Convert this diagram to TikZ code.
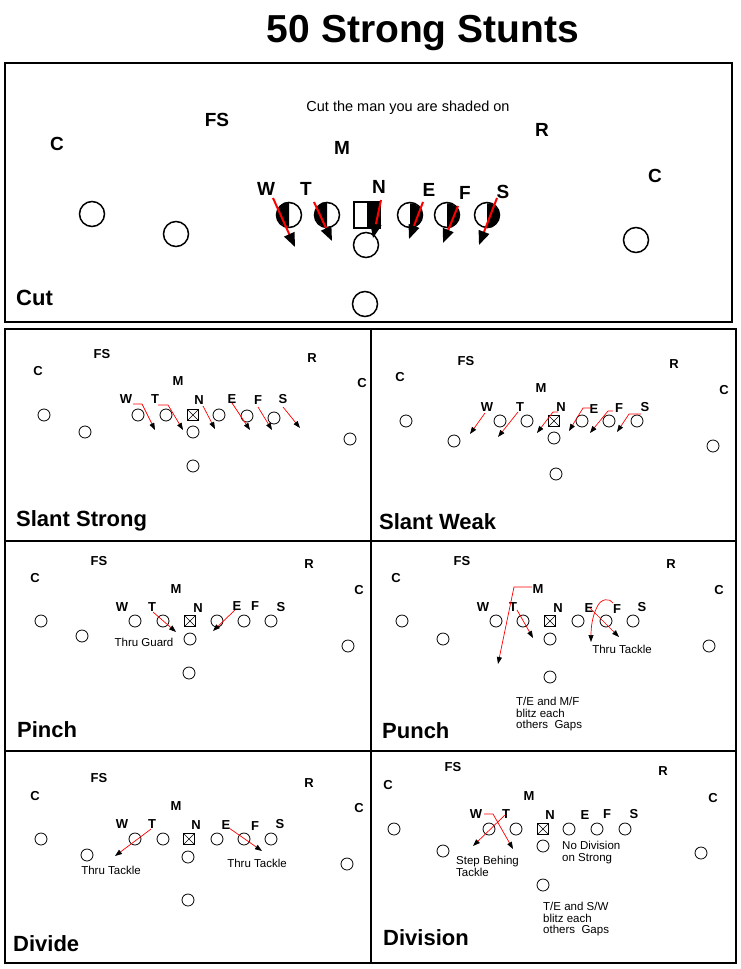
\documentclass[tikz,border=0pt]{standalone}
\usepackage{fontspec}
\setmainfont{Liberation Sans}
\usetikzlibrary{arrows.meta}
\begin{document}
\begin{tikzpicture}[x=1pt,y=-1pt,
  lbl/.style={font=\fontsize{13}{13}\selectfont\bfseries, inner sep=0pt},
  biglbl/.style={font=\fontsize{19}{19}\selectfont\bfseries, inner sep=0pt},
  note/.style={font=\fontsize{11.5}{11.7}\selectfont, inner sep=0pt, align=left},
  ptitle/.style={font=\fontsize{22}{22}\selectfont\bfseries, inner sep=0pt, anchor=base west},
  pl/.style={circle, draw, line width=0.8pt, minimum size=12pt, inner sep=0pt},
  bigpl/.style={circle, draw, line width=1.5pt, minimum size=25pt, inner sep=0pt},
  ctr/.style={draw, line width=0.8pt, minimum size=11pt, inner sep=0pt,
    path picture={\draw[line width=0.6pt] (path picture bounding box.south west) -- (path picture bounding box.north east)
      (path picture bounding box.north west) -- (path picture bounding box.south east);}},
  blitz/.style={red, line width=0.7pt, -{Triangle[length=7pt,width=5pt,color=black,fill=black]}},
  cutarr/.style={red, line width=2pt, -{Triangle[length=14pt,width=11pt,color=black,fill=black]}},
  frame/.style={line width=2pt}
]
\fill[white] (0,0) rectangle (741,969);
\useasboundingbox (0,0) rectangle (741,969);

% title
\node[font=\fontsize{39}{39}\selectfont\bfseries, inner sep=0pt, anchor=base] (title) at (423,42) {50 Strong Stunts};

% frames
\draw[frame] (5,63) rectangle (732,322);
\draw[frame] (5,329) rectangle (736,963);
\draw[frame] (371,329) -- (371,963);
\draw[frame] (5,541) -- (736,541);
\draw[frame] (5,751) -- (736,751);

% ================= CUT =================
\node[ptitle] (t0) at (16,305) {Cut};
\node[font=\fontsize{14.5}{14.5}\selectfont, inner sep=0pt] (cutnote) at (408,108) {Cut the man you are shaded on};
\foreach \n/\t/\x/\y in {FS/FS/217/120, Cl/C/57/144, M/M/342/148, R/R/542/130, Cr/C/655/176,
  W/W/266/189, T/T/306/189, N/N/379/187, E/E/429/190, F/F/465/193, S/S/503/192}
  \node[biglbl] (a0\n) at (\x,\y) {\t};
\foreach \n/\x/\y in {o1/92/214, o2/176/234, oW/289/215, oT/327/215, oE/410/215, oF/447/215, oS/487/215,
  qb/366/245, rb/636/240, tb/365/304}
  \node[bigpl] (p0\n) at (\x,\y) {};
\node[draw, line width=1.5pt, minimum size=25pt, inner sep=0pt] (p0sq) at (367,215) {};
% shading
\fill (p0oW.north) arc[start angle=90, end angle=270, radius=12.5pt] -- cycle;
\fill (p0oT.north) arc[start angle=90, end angle=270, radius=12.5pt] -- cycle;
\fill (p0oE.south) arc[start angle=-90, end angle=90, radius=12.5pt] -- cycle;
\fill (p0oF.south) arc[start angle=-90, end angle=90, radius=12.5pt] -- cycle;
\fill (p0oS.south) arc[start angle=-90, end angle=90, radius=12.5pt] -- cycle;
\fill (p0sq.north) rectangle (p0sq.south east);
\draw[line width=1.5pt] (p0sq.north west) rectangle (p0sq.south east);
% cut arrows
\coordinate (c0Wa) at (273,198); \coordinate (c0Wb) at (295,247);
\coordinate (c0Ta) at (314,202); \coordinate (c0Tb) at (332,241);
\coordinate (c0Na) at (381,200); \coordinate (c0Nb) at (373,238);
\coordinate (c0Ea) at (423,202); \coordinate (c0Eb) at (409,239);
\coordinate (c0Fa) at (458,206); \coordinate (c0Fb) at (443,243);
\coordinate (c0Sa) at (497,198); \coordinate (c0Sb) at (479,245);
\foreach \n in {W,T,N,E,F,S} \draw[cutarr] (c0\n a) -- (c0\n b);

% ================= SLANT STRONG =================
\node[ptitle] (t1) at (16,526) {Slant Strong};
\foreach \n/\t/\x/\y in {FS/FS/102/354, Cl/C/38/371, M/M/178/381, R/R/312/358, Cr/C/362/383,
  W/W/126/399, T/T/155/399, N/N/199/400, E/E/232/399, F/F/258/400, S/S/283/399}
  \node[lbl] (a1\n) at (\x,\y) {\t};
\foreach \n/\x/\y in {o1/44/415, o2/85/432, o3/138/415, o4/166/415, o5/219/415, o6/247/416, o7/274/418,
  qb/193/432, tb/193/466, rb/350/439}
  \node[pl] (p1\n) at (\x,\y) {};
\node[ctr] (p1sq) at (193,415) {};
\coordinate (c1Wa) at (133,404); \coordinate (c1Wb) at (142,404); \coordinate (c1Wc) at (155,430);
\coordinate (c1Ta) at (158,405); \coordinate (c1Tb) at (168,405); \coordinate (c1Tc) at (183,430);
\coordinate (c1Na) at (203,406); \coordinate (c1Nc) at (215,429);
\coordinate (c1Ea) at (232,403); \coordinate (c1Ec) at (250,430);
\coordinate (c1Fa) at (258,407); \coordinate (c1Fc) at (272,430);
\coordinate (c1Sa) at (283,407); \coordinate (c1Sc) at (300,428);
\draw[blitz] (c1Wa) -- (c1Wb) -- (c1Wc);
\draw[blitz] (c1Ta) -- (c1Tb) -- (c1Tc);
\foreach \n in {N,E,F,S} \draw[blitz] (c1\n a) -- (c1\n c);

% ================= SLANT WEAK =================
\node[ptitle] (t2) at (379,529) {Slant Weak};
\foreach \n/\t/\x/\y in {FS/FS/466/361, Cl/C/400/377, M/M/541/388, R/R/674/364, Cr/C/724/390,
  W/W/487/407, T/T/520/407, N/N/561/407, E/E/594/409, F/F/619/408, S/S/645/407}
  \node[lbl] (a2\n) at (\x,\y) {\t};
\foreach \n/\x/\y in {o1/406/421, o2/454/441, o3/500/421, o4/527/421, o5/582/421, o6/609/421, o7/637/421,
  qb/554/438, tb/556/474, rb/713/446}
  \node[pl] (p2\n) at (\x,\y) {};
\node[ctr] (p2sq) at (554,421) {};
\coordinate (c2Wa) at (485,413); \coordinate (c2Wc) at (470,434);
\coordinate (c2Ta) at (518,412); \coordinate (c2Tc) at (498,437);
\coordinate (c2Na) at (558,412); \coordinate (c2Nb) at (553,412); \coordinate (c2Nc) at (537,433);
\coordinate (c2Ea) at (591,408); \coordinate (c2Eb) at (583,408); \coordinate (c2Ec) at (569,431);
\coordinate (c2Fa) at (613,411); \coordinate (c2Fb) at (608,411); \coordinate (c2Fc) at (590,433);
\coordinate (c2Sa) at (641,414); \coordinate (c2Sb) at (629,414); \coordinate (c2Sc) at (617,432);
\draw[blitz] (c2Wa) -- (c2Wc);
\draw[blitz] (c2Ta) -- (c2Tc);
\foreach \n in {N,E,F,S} \draw[blitz] (c2\n a) -- (c2\n b) -- (c2\n c);

% ================= PINCH =================
\node[ptitle] (t3) at (17,737) {Pinch};
\foreach \n/\t/\x/\y in {FS/FS/99/561, Cl/C/35/578, M/M/176/589, R/R/309/564, Cr/C/359/590,
  W/W/122/607, T/T/152/607, N/N/198/608, E/E/237/606, F/F/255/606, S/S/281/607}
  \node[lbl] (a3\n) at (\x,\y) {\t};
\foreach \n/\x/\y in {o1/41/621, o2/82/636, o3/135/621, o4/163/621, o5/217/621, o6/244/621, o7/271/621,
  qb/190/639, tb/189/673, rb/348/646}
  \node[pl] (p3\n) at (\x,\y) {};
\node[ctr] (p3sq) at (190,621) {};
\coordinate (c3Ta) at (153,612); \coordinate (c3Tc) at (176,632);
\coordinate (c3Ea) at (235,610); \coordinate (c3Ec) at (213,631);
\draw[blitz] (c3Ta) -- (c3Tc);
\draw[blitz] (c3Ea) -- (c3Ec);
\node[note] (n3a) at (144,642) {Thru Guard};

% ================= PUNCH =================
\node[ptitle] (t4) at (382,738) {Punch};
\foreach \n/\t/\x/\y in {FS/FS/462/561, Cl/C/396/578, M/M/538/589, R/R/671/564, Cr/C/719/590,
  W/W/483/607, T/T/513/607, N/N/558/608, E/E/589/608, F/F/617/609, S/S/642/607}
  \node[lbl] (a4\n) at (\x,\y) {\t};
\foreach \n/\x/\y in {o1/402/621, o2/443/639, o3/496/621, o4/523/621, o5/578/621, o6/606/621, o7/633/621,
  qb/550/639, tb/550/677, rb/709/646}
  \node[pl] (p4\n) at (\x,\y) {};
\node[ctr] (p4sq) at (550,621) {};
\coordinate (c4Ma) at (532,587); \coordinate (c4Mb) at (514,587); \coordinate (c4Mc) at (498,664);
\coordinate (c4Ta) at (517,610); \coordinate (c4Tc) at (533,638);
\coordinate (c4Ea) at (590,608); \coordinate (c4Ec) at (619,637);
\coordinate (c4Fa) at (613,603); \coordinate (c4Fc) at (591,642);
\draw[blitz] (c4Ma) -- (c4Mb) -- (c4Mc);
\draw[blitz] (c4Ta) -- (c4Tc);
\draw[blitz] (c4Ea) -- (c4Ec);
\draw[blitz] (c4Fa) .. controls (610,598) and (601,598) .. (597,607) .. controls (592,617) and (591,628) .. (c4Fc);
\node[note] (n4a) at (622,649) {Thru Tackle};
\node[note, anchor=north west] (n4b) at (516,697) {T/E and M/F\\blitz each\\others\ \ Gaps};

% ================= DIVIDE =================
\node[ptitle] (t5) at (13,951) {Divide};
\foreach \n/\t/\x/\y in {FS/FS/99/778, Cl/C/35/796, M/M/176/806, R/R/309/783, Cr/C/359/808,
  W/W/122/824, T/T/152/824, N/N/196/825, E/E/226/825, F/F/255/826, S/S/280/824}
  \node[lbl] (a5\n) at (\x,\y) {\t};
\foreach \n/\x/\y in {o1/41/839, o2/87/855, o3/135/839, o4/163/839, o5/217/839, o6/244/839, o7/271/839,
  qb/188/857, tb/188/900, rb/347/864}
  \node[pl] (p5\n) at (\x,\y) {};
\node[ctr] (p5sq) at (189,839) {};
\coordinate (c5Ta) at (151,829); \coordinate (c5Tc) at (115,856);
\coordinate (c5Ea) at (229,828); \coordinate (c5Ec) at (262,851);
\draw[blitz] (c5Ta) -- (c5Tc);
\draw[blitz] (c5Ea) -- (c5Ec);
\node[note] (n5a) at (111,870) {Thru Tackle};
\node[note] (n5b) at (257,863) {Thru Tackle};

% ================= DIVISION =================
\node[ptitle] (t6) at (383,945) {Division};
\foreach \n/\t/\x/\y in {FS/FS/453/767, Cl/C/388/785, M/M/529/796, R/R/663/771, Cr/C/713/798,
  W/W/476/814, T/T/506/814, N/N/550/815, E/E/585/815, F/F/607/814, S/S/634/814}
  \node[lbl] (a6\n) at (\x,\y) {\t};
\foreach \n/\x/\y in {o1/394/829, o2/443/851, o3/489/829, o4/516/829, o5/569/829, o6/597/829, o7/625/829,
  qb/543/846, tb/543/885, rb/701/853}
  \node[pl] (p6\n) at (\x,\y) {};
\node[ctr] (p6sq) at (543,829) {};
\coordinate (c6Wa) at (484,814); \coordinate (c6Wb) at (493,814); \coordinate (c6Wc) at (513,849);
\coordinate (c6Ta) at (505,815); \coordinate (c6Tc) at (473,846);
\draw[blitz] (c6Wa) -- (c6Wb) -- (c6Wc);
\draw[blitz] (c6Ta) -- (c6Tc);
\node[note, anchor=north west] (n6a) at (456,856) {Step Behing\\Tackle};
\node[note, anchor=north west] (n6b) at (562,841) {No Division\\on Strong};
\node[note, anchor=north west] (n6c) at (543,902) {T/E and S/W\\blitz each\\others\ \ Gaps};
\end{tikzpicture}
\end{document}
